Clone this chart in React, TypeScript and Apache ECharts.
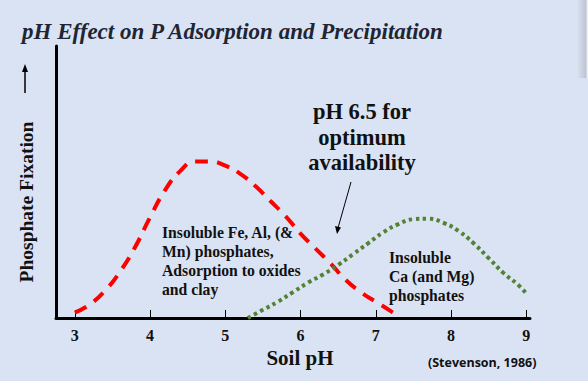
import React, { useEffect, useRef } from "react";
import * as echarts from "echarts";

const xTicks = [3, 4, 5, 6, 7, 8, 9];
const redPH = [3.0, 3.2, 3.4, 3.6, 3.8, 4.0, 4.2, 4.4, 4.6, 4.8, 5.0, 5.2, 5.4, 5.6, 5.8, 6.0, 6.2, 6.4, 6.6, 6.8, 7.0, 7.2, 7.3];
const redFix = [2, 5, 10, 17, 26, 37, 47, 54, 57.5, 57.5, 56, 53, 48.5, 43, 37.5, 31, 25.5, 20, 14, 9.5, 6, 2.5, 0.5];
const greenPH = [5.3, 5.5, 5.7, 5.9, 6.1, 6.3, 6.5, 6.7, 6.9, 7.1, 7.3, 7.5, 7.7, 7.9, 8.1, 8.3, 8.5, 8.7, 8.9, 9.0];
const greenFix = [0, 3, 6, 9.5, 13, 16, 19.5, 23.5, 27.5, 31.5, 34.5, 36.3, 36.5, 35, 32, 27.5, 22, 16.5, 12, 9];

const serif = "Liberation Serif";

function txt(x: number, y: number, text: string, size: number, extra: any = {}) {
  return {
    type: "text",
    x,
    y,
    rotation: extra.rotation || 0,
    style: {
      text,
      fontFamily: extra.family || serif,
      fontSize: size,
      fontWeight: "bold",
      fontStyle: extra.italic ? "italic" : "normal",
      lineHeight: extra.lineHeight,
      fill: extra.fill || "#111111",
      align: extra.align || "left",
      verticalAlign: "middle",
    },
  };
}

export default function App() {
  const ref = useRef<HTMLDivElement>(null);
  useEffect(() => {
    if (!ref.current) return;
    const chart = echarts.init(ref.current, null, { renderer: "svg" });
    chart.setOption({
      animation: false,
      backgroundColor: "#dae3f3",
      grid: { left: 56, right: 58, top: 46, bottom: 63 },
      xAxis: {
        type: "value",
        min: 2.75,
        max: 9.05,
        axisLine: { lineStyle: { color: "#000", width: 3 } },
        axisTick: {
          show: true,
          inside: true,
          length: 8,
          customValues: xTicks,
          lineStyle: { color: "#000", width: 1 },
        },
        axisLabel: {
          customValues: xTicks,
          margin: 9,
          fontFamily: serif,
          fontWeight: "bold",
          fontSize: 16,
          color: "#111111",
        },
        splitLine: { show: false },
      },
      yAxis: {
        type: "value",
        min: 0,
        max: 100,
        axisLine: { show: true, lineStyle: { color: "#000", width: 3 } },
        axisTick: { show: false },
        axisLabel: { show: false },
        splitLine: { show: false },
      },
      series: [
        {
          type: "line",
          data: redPH.map((x, i) => [x, redFix[i]]),
          smooth: true,
          showSymbol: false,
          lineStyle: { color: "#ff0000", width: 4, type: [13, 9] },
        },
        {
          type: "line",
          data: greenPH.map((x, i) => [x, greenFix[i]]),
          smooth: true,
          showSymbol: false,
          lineStyle: { color: "#548235", width: 4, type: [3.5, 3.5] },
        },
      ],
      graphic: [
        {
          type: "rect",
          shape: { x: 577, y: 0, width: 11, height: 78 },
          style: {
            fill: new echarts.graphic.LinearGradient(0, 0, 1, 0, [
              { offset: 0, color: "rgba(218,227,243,1)" },
              { offset: 0.8, color: "rgba(190,196,210,1)" },
              { offset: 1, color: "#ffffff" },
            ]),
          },
          silent: true,
        },
        txt(22, 31, "pH Effect on P Adsorption and Precipitation", 23, { italic: true, fill: "#1f2633" }),
        txt(26, 202, "Phosphate Fixation", 19.5, { rotation: Math.PI / 2, align: "center" }),
        {
          type: "line",
          shape: { x1: 25, y1: 93, x2: 25, y2: 70 },
          style: { stroke: "#000", lineWidth: 1.5 },
        },
        {
          type: "polygon",
          shape: { points: [[25, 64], [22, 72], [28, 72]] },
          style: { fill: "#000" },
        },
        txt(362, 137, "pH 6.5 for\noptimum\navailability", 22.5, { lineHeight: 25.5, align: "center" }),
        {
          type: "line",
          shape: { x1: 351, y1: 182, x2: 338, y2: 228 },
          style: { stroke: "#000", lineWidth: 1 },
        },
        {
          type: "polygon",
          shape: { points: [[337, 234], [335, 226], [341, 227.5]] },
          style: { fill: "#000" },
        },
        txt(162, 260.5, "Insoluble Fe, Al, (&\nMn) phosphates,\nAdsorption to oxides\nand clay", 15.7, { lineHeight: 19 }),
        txt(389, 276, "Insoluble\nCa (and Mg)\nphosphates", 15.7, { lineHeight: 19 }),
        txt(300, 358, "Soil pH", 21, { align: "center" }),
        txt(428, 362, "(Stevenson, 1986)", 12.5, { family: "Open Sans" }),
      ],
    });
    return () => chart.dispose();
  }, []);
  return (
    <div
      ref={ref}
      style={{ position: "fixed", left: 0, top: 0, width: 588, height: 381 }}
    />
  );
}
